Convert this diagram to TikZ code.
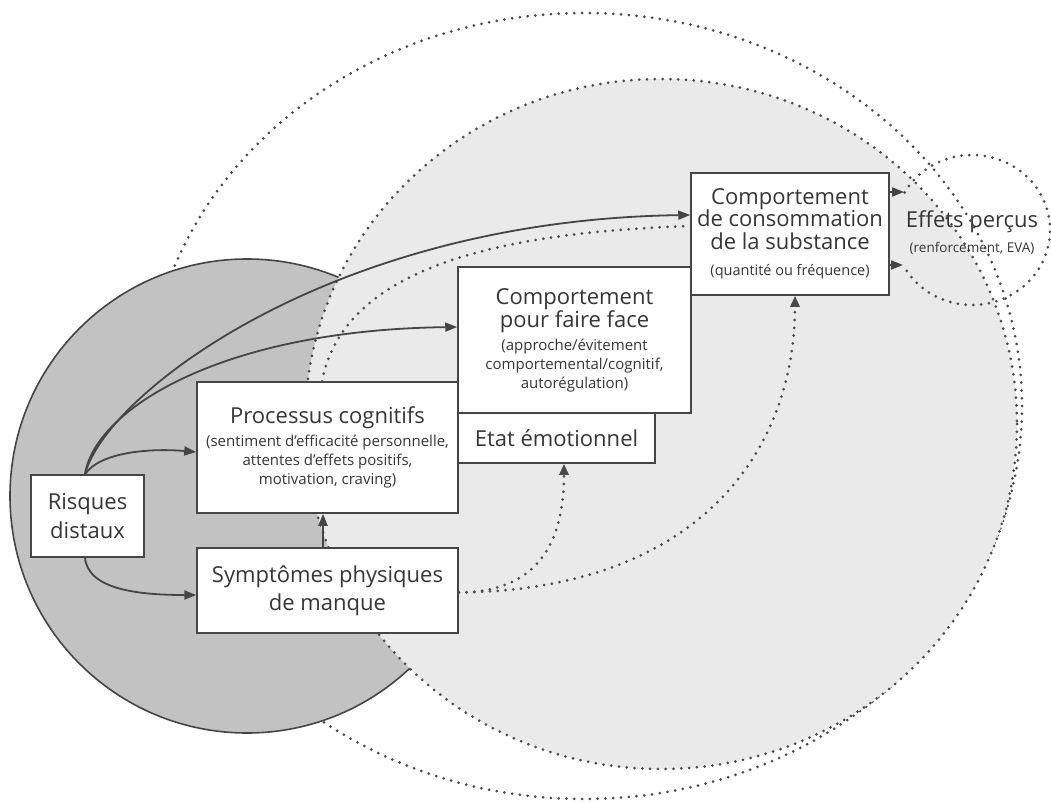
\documentclass[tikz,border=0pt]{standalone}
\usepackage{fontspec}
\setmainfont{Open Sans}
\usetikzlibrary{arrows.meta}
\definecolor{ink}{HTML}{363636}
\definecolor{darkfill}{HTML}{C2C2C2}
\definecolor{lightfill}{HTML}{EAEAEA}
\definecolor{linec}{HTML}{454545}
\definecolor{dotc}{HTML}{4A4A4A}
\newcommand\tsmall{\fontsize{15}{19}\selectfont}
\newcommand\tbig{\fontsize{22}{25}\selectfont}
\begin{document}
\begin{tikzpicture}[x=1pt,y=-1pt,
  box/.style={draw=linec, line width=1.5pt, fill=white, inner sep=0pt, align=center, text=ink},
  arr/.style={draw=linec, line width=1.8pt, -{Triangle[length=12pt,width=9pt]}},
  dots/.style={draw=dotc, line width=3pt, line cap=round, dash pattern=on 0pt off 7.8pt},
  darr/.style={dots, -{Triangle[length=11pt,width=9pt]}}
]
\useasboundingbox (0,0) rectangle (1051,802);
\fill[white] (0,0) rectangle (1051,802);

% circles
\draw[dots] (584,406) ellipse [x radius=438, y radius=393];
\draw[fill=darkfill, draw=linec, line width=1.6pt] (247,496) circle [radius=237];
\path[fill=lightfill] (661,424) ellipse [x radius=356, y radius=345];
\draw[dots] (661,424) ellipse [x radius=356, y radius=345];
\draw[dots] (904.5,192.5) arc [start angle=210, end angle=512, x radius=78, y radius=75];

% boxes
\node[box, minimum width=113pt, minimum height=82pt, font=\fontsize{22}{29}\selectfont] (risk) at (87.5,516) {Risques\\distaux};
\node[box, minimum width=261pt, minimum height=131pt, font=\tsmall] (proc) at (327.5,447.5)
  {\tbig Processus cognitifs\\[4pt]\tsmall (sentiment d’efficacité personnelle,\\\tsmall attentes d’effets positifs,\\\tsmall motivation, craving)};
\node[box, minimum width=261pt, minimum height=85pt, font=\fontsize{22}{28}\selectfont] (symp) at (327.5,590.5) {Symptômes physiques\\de manque};
\node[box, minimum width=197pt, minimum height=50pt, font=\tbig] (etat) at (556.5,438) {Etat émotionnel};
\node[box, minimum width=233pt, minimum height=146pt, font=\tsmall] (cff) at (574.5,340)
  {\tbig Comportement\\\tbig pour faire face\\[4pt]\tsmall (approche/évitement\\\tsmall comportemental/cognitif,\\\tsmall autorégulation)};
\node[box, minimum width=198pt, minimum height=122pt, font=\fontsize{22}{22.5}\selectfont] (cons) at (790,234)
  {Comportement\\de consommation\\de la substance\\[4pt]\fontsize{14.5}{19}\selectfont (quantité ou fréquence)};
\node[align=center, text=ink, inner sep=0pt, font=\tbig] (eff) at (972,233)
  {Effets perçus\\\fontsize{13.5}{16}\selectfont (renforcement, EVA)};

\coordinate (e1) at (904,192);
\coordinate (e2) at (903,265);

% solid arrows
\draw[arr] ([xshift=-2.5pt]risk.north) .. controls (105,395) and (330,220) .. ([yshift=19pt]cons.west);
\draw[arr] ([xshift=-2.5pt]risk.north) .. controls (95,410) and (220,330) .. ([yshift=13pt]cff.west);
\draw[arr] ([xshift=-2.5pt]risk.north) .. controls (100,452) and (150,448) .. ([yshift=-4.5pt]proc.west);
\draw[arr] ([xshift=-2.5pt]risk.south) .. controls (88,590) and (140,595) .. ([yshift=-4.5pt]symp.west);
\draw[arr] ([xshift=-4.5pt]symp.north) -- ([xshift=-4.5pt]proc.south);
\draw[arr] (cons.east |- e1) -- (e1);
\draw[arr] (cons.east |- e2) -- (e2);

% dotted arrows
\draw[dots] ([xshift=-5.5pt]proc.north) .. controls (345,260) and (520,232) .. ([yshift=8pt]cons.west);
\draw[darr] ([yshift=-2pt]symp.east) .. controls (540,592) and (564,540) .. ([xshift=7.5pt]etat.south);
\draw[darr] ([yshift=-2pt]symp.east) .. controls (700,590) and (795,450) .. ([xshift=5pt]cons.south);
\end{tikzpicture}
\end{document}
